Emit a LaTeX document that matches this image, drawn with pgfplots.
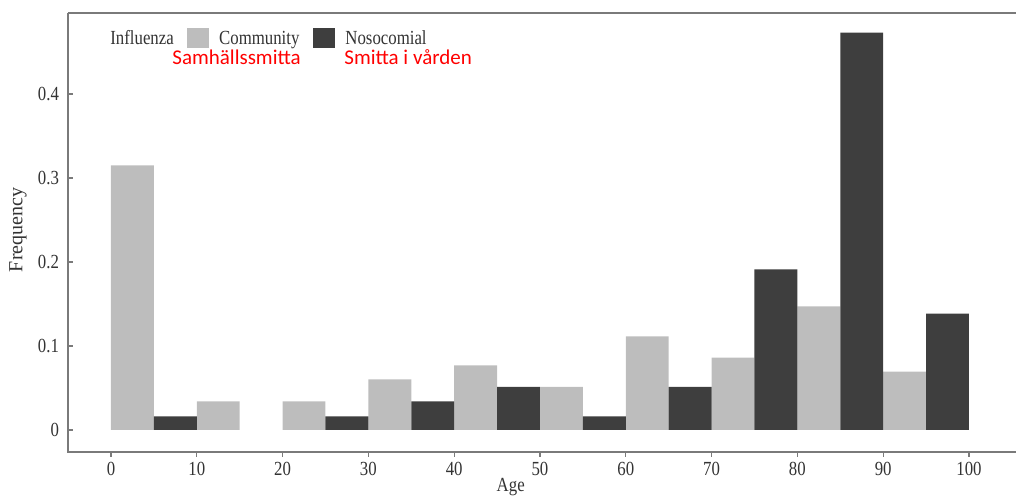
\documentclass[border=0pt]{standalone}
\usepackage{pgfplots}
\pgfplotsset{compat=1.18}
\usepackage{fontspec}
\setmainfont{Liberation Serif}[FakeStretch=0.84]
\newfontfamily\plainserif{Liberation Serif}
\newfontfamily\swfont{Carlito}
\definecolor{comm}{HTML}{BDBDBD}
\definecolor{noso}{HTML}{3E3E3E}
\definecolor{axgray}{HTML}{7A7A7A}
\definecolor{txt}{HTML}{333333}
\begin{document}
\begin{tikzpicture}
\useasboundingbox (0,0) rectangle (508bp,249bp);
\begin{axis}[
  at={(34bp,23bp)}, anchor=south west,
  scale only axis, width=474bp, height=219.5bp,
  xmin=-5.01, xmax=105.48, ymin=-0.0262, ymax=0.4964,
  axis line style={draw=none},
  xtick={0,10,...,100}, ytick={0,0.1,0.2,0.3,0.4},
  tick pos=left,
  tick align=inside, major tick length=2.5bp,
  tick style={axgray, line width=0.6bp},
  font=\fontsize{10bp}{12bp}\selectfont,
  /pgf/number format/assume math mode=true,
  ticklabel style={text=txt},
  yticklabel style={xshift=-1bp},
  xticklabel style={yshift=1bp},
  xlabel={Age}, ylabel={Frequency},
  every axis x label/.style={at={(rel axis cs:0.467,0)}, yshift=-17.5bp, anchor=center, text=txt},
  every axis y label/.style={at={(rel axis cs:0,0.506)}, xshift=-25bp, rotate=90, anchor=center, text=txt, font=\plainserif\fontsize{10bp}{12bp}\selectfont},
  ybar, bar width=5,
  legend columns=2,
  legend style={draw=none, fill=none, text=txt, at={(rel axis cs:0.119,0.942)}, anchor=west,
    nodes={inner sep=0pt},
    /tikz/every odd column/.append style={column sep=5bp},
    /tikz/every even column/.append style={column sep=7bp}},
  legend image code/.code={\fill[#1] (0bp,-4.5bp) rectangle (11bp,5.5bp);},
  clip=false,
]
\addplot[fill=comm, draw=none, bar shift=0pt] coordinates {
  (2.5,0.315) (12.5,0.0341) (22.5,0.0341) (32.5,0.0603) (42.5,0.077)
  (52.5,0.0512) (62.5,0.1115) (72.5,0.0861) (82.5,0.1472) (92.5,0.0694)};
\addlegendentry{Community}
\addplot[fill=noso, draw=none, bar shift=0pt] coordinates {
  (7.5,0.0163) (27.5,0.0163) (37.5,0.0341) (47.5,0.0512)
  (57.5,0.0163) (67.5,0.0512) (77.5,0.1913) (87.5,0.4730) (97.5,0.1385)};
\addlegendentry{Nosocomial}
\draw[axgray, line width=1bp] (rel axis cs:0,1) -- (rel axis cs:0,0) -- (rel axis cs:1,0);
\draw[axgray, line width=1bp] (rel axis cs:0,1) -- (rel axis cs:1,1);
\node[anchor=west, text=txt, inner sep=0pt] at (axis cs:-0.12,0.4676) {Influenza};
\node[anchor=base west, text=red, inner sep=0pt, font=\swfont\fontsize{10.5bp}{12bp}\selectfont] at (axis cs:7.11,0.4345) {Samhällssmitta};
\node[anchor=base west, text=red, inner sep=0pt, font=\swfont\fontsize{10.5bp}{12bp}\selectfont] at (axis cs:27.16,0.4345) {Smitta i vården};
\end{axis}
\end{tikzpicture}
\end{document}
